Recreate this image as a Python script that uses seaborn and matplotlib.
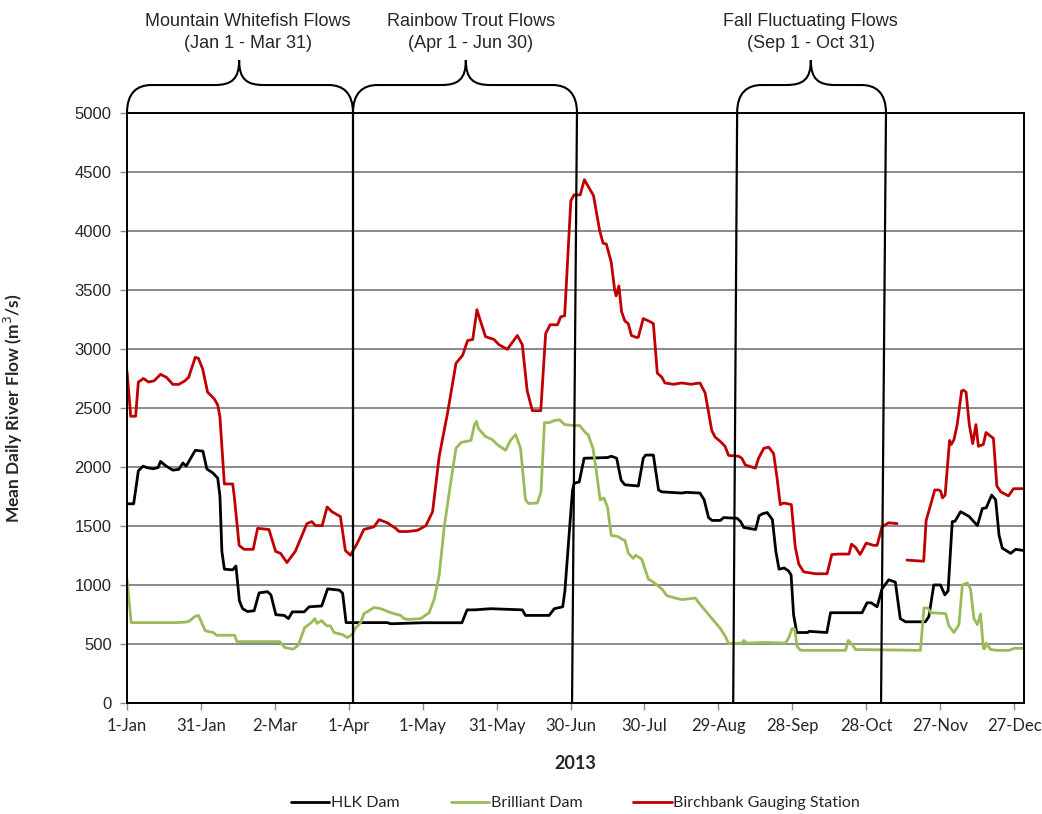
import numpy as np
import pandas as pd
import seaborn as sns
import matplotlib.pyplot as plt
from matplotlib.path import Path
from matplotlib.patches import PathPatch

# day of year (0 = 1-Jan) and mean daily flow
hlk_days = [0, 2.7, 4.6, 6.5, 8, 10.5, 12.6, 13.6, 15.7, 18.6, 21, 22.7, 24, 27.7, 30.8,
            32.4, 34.8, 36.8, 37.7, 38.5, 39.5, 42.9, 44.2, 45.6, 46.9, 48.9, 51.6, 53.6,
            57, 58.4, 60.4, 63.8, 65.5, 67.1, 71.9, 73.9, 79, 81.4, 86.2, 87.5, 88.9,
            105.6, 107, 120, 135.9, 138, 141, 147.6, 160.4, 161.7, 171.3, 173.4, 176.8,
            177.7, 179.5, 180.8, 181.5, 183.5, 185.5, 195, 196.6, 198.7, 200.5, 202,
            207.5, 209.5, 210.5, 213.6, 215.7, 217, 225.1, 227, 232.5, 234.2, 236, 237.4,
            240.8, 242.1, 247.6, 249, 250.3, 255.1, 256.5, 258, 259.8, 261.9, 263.3,
            264.6, 266.7, 268.5, 269.5, 270.5, 271.8, 276.2, 276.9, 284, 285.5, 298.3,
            300.3, 302, 304.4, 306.4, 309.1, 311.8, 313.8, 315.9, 324, 325.4, 327.4,
            330.1, 331.9, 333.2, 334.9, 336, 338.3, 341.7, 345.1, 347.1, 348.7, 350.9,
            352.5, 353.9, 355.2, 358.6, 360.6, 364]
hlk_flow = [1688, 1688, 1967, 2007, 1995, 1985, 1995, 2047, 2010, 1973, 1980, 2034, 2007,
            2141, 2134, 1983, 1950, 1906, 1755, 1285, 1134, 1128, 1161, 866, 799, 775, 782,
            933, 943, 916, 748, 742, 715, 772, 772, 815, 822, 967, 956, 930, 681, 681, 671,
            680, 680, 789, 789, 799, 789, 742, 742, 799, 815, 950, 1453, 1805, 1863, 1873,
            2074, 2080, 2091, 2074, 1889, 1849, 1839, 2074, 2101, 2101, 1805, 1789, 1779,
            1785, 1779, 1722, 1571, 1547, 1547, 1571, 1565, 1537, 1487, 1470, 1587, 1604,
            1614, 1554, 1285, 1134, 1144, 1118, 1084, 748, 597, 597, 607, 597, 765, 765,
            849, 849, 815, 967, 1044, 1024, 715, 688, 688, 732, 1000, 1000, 916, 950, 1537,
            1540, 1621, 1581, 1503, 1648, 1654, 1762, 1722, 1420, 1312, 1268, 1302, 1292]

brilliant_days = [0, 1.7, 10, 20, 23.5, 25, 27.5, 29, 31.7, 33, 35, 36.4, 43.7, 44.6, 62,
                  64, 67.4, 69.4, 72.1, 74.8, 76.2, 77.1, 79, 81, 82.5, 84, 87.4, 89.4,
                  91.4, 92.8, 94.8, 96.2, 98.2, 100.2, 101.5, 103, 107, 111, 112.4, 114,
                  119.2, 122.6, 124.7, 126.7, 128.7, 131.5, 133.5, 135.6, 139.6, 141,
                  141.8, 142.6, 145.4, 148.2, 150.2, 153.6, 155.6, 157.7, 159.7, 161.7,
                  163, 166.5, 168, 169.4, 171.4, 173.4, 175.5, 177.6, 181, 183.6, 186.3,
                  187.1, 189.1, 190.5, 192, 193.5, 195, 196.5, 199.3, 201, 202, 203.5,
                  205.4, 206.5, 208.9, 210.2, 211.6, 213.6, 217, 219.1, 222.5, 225.2,
                  230.6, 232.7, 234.7, 238.8, 240.8, 242.8, 244.2, 249.6, 250.3, 251.5,
                  259.1, 267.2, 268.6, 269.9, 271, 271.9, 273.3, 291.6, 292.7, 294.3,
                  295.6, 322, 323.4, 325, 326.1, 332.2, 333.5, 335.6, 337.6, 339, 341,
                  342.3, 343.7, 345.1, 346.4, 347.5, 348, 348.8, 350.4, 353.1, 358, 360,
                  364]
brilliant_flow = [1050, 681, 681, 681, 685, 690, 732, 742, 614, 605, 597, 574, 574, 520,
                  520, 470, 456, 487, 638, 681, 715, 675, 698, 654, 654, 597, 580, 554,
                  580, 637, 681, 758, 782, 809, 805, 799, 765, 742, 715, 708, 715, 765,
                  883, 1084, 1487, 1889, 2158, 2208, 2225, 2359, 2386, 2326, 2259, 2232,
                  2191, 2141, 2225, 2275, 2158, 1722, 1690, 1695, 1789, 2376, 2376, 2393,
                  2400, 2359, 2352, 2352, 2285, 2275, 2158, 1957, 1722, 1738, 1660, 1420,
                  1410, 1386, 1379, 1268, 1225, 1252, 1218, 1134, 1050, 1024, 967, 909,
                  889, 876, 889, 832, 782, 681, 631, 564, 503, 507, 530, 507, 513, 507,
                  554, 631, 621, 480, 446, 446, 530, 497, 453, 446, 805, 805, 765, 758,
                  654, 597, 664, 1000, 1017, 967, 715, 664, 755, 463, 460, 507, 453, 446,
                  446, 463, 463]

# Birchbank has a data gap in November, kept as two pieces
birch_days_a = [0, 1.5, 3.5, 4.6, 6.7, 8.7, 11, 13.6, 16, 18.6, 21, 23.5, 25, 27.7, 29,
                30.7, 32.7, 35.4, 36.8, 37.7, 39.5, 42.9, 43.5, 45.5, 47.5, 51.2, 53, 57.6,
                60.3, 62.3, 64.9, 68.3, 71, 73, 75, 76.5, 79.2, 81.2, 83.2, 86.6, 88.6,
                90.7, 93.4, 96.1, 100.2, 102.3, 105.6, 109, 110.4, 113.8, 117.9, 121.3,
                124, 126.7, 130.1, 133.5, 136.2, 138.2, 140.3, 142, 143, 145.5, 148.9,
                150.9, 154.3, 158.4, 160.4, 162.4, 164.5, 167.9, 169.9, 171.7, 174.7, 176,
                177.6, 180.1, 181.4, 183.9, 185.6, 189.3, 191.8, 193.2, 194.5, 196.5,
                197.9, 198.5, 199.6, 200.7, 202, 203.4, 204.7, 206.8, 207.5, 209.5, 212.2,
                213.6, 215.2, 217, 218.3, 221.7, 225.1, 228.8, 232.5, 234.6, 237.3, 238.7,
                240.7, 242.7, 244.1, 248.2, 249.5, 250.9, 255, 256.3, 258.4, 260.4, 262.4,
                263.8, 265.1, 266.5, 269.6, 271.2, 272.6, 274.6, 279.4, 284.1, 286, 288.9,
                293, 294, 295.6, 297.5, 300, 302.9, 304.4, 306.4, 309.1, 312.5]
birch_flow_a = [2810, 2430, 2430, 2720, 2750, 2720, 2730, 2785, 2760, 2700, 2700, 2730,
                2760, 2930, 2920, 2830, 2634, 2577, 2527, 2426, 1856, 1856, 1755, 1335,
                1302, 1302, 1480, 1470, 1285, 1268, 1190, 1285, 1420, 1520, 1537, 1503,
                1503, 1661, 1620, 1580, 1292, 1252, 1352, 1470, 1493, 1554, 1527, 1480,
                1453, 1453, 1463, 1503, 1621, 2091, 2460, 2879, 2947, 3071, 3081, 3333,
                3265, 3104, 3081, 3037, 2997, 3114, 3037, 2645, 2477, 2477, 3131, 3205,
                3205, 3272, 3282, 4255, 4306, 4306, 4435, 4300, 4004, 3896, 3890, 3735,
                3500, 3450, 3534, 3316, 3238, 3215, 3114, 3097, 3100, 3258, 3232, 3215,
                2795, 2762, 2712, 2701, 2712, 2701, 2712, 2628, 2309, 2252, 2218, 2175,
                2098, 2091, 2074, 2017, 1990, 2074, 2158, 2168, 2114, 1906, 1681, 1695,
                1681, 1319, 1178, 1111, 1095, 1095, 1258, 1262, 1262, 1346, 1320, 1258,
                1355, 1336, 1336, 1493, 1527, 1520]
birch_days_b = [316.5, 323.3, 324.3, 326, 327.8, 329.4, 330.2, 330.9, 332, 333.8, 334.5,
                335.6, 336.9, 338.7, 339.5, 340.5, 341.8, 343.2, 344.5, 345.5, 347.5,
                348.6, 351.6, 353, 354.6, 357.7, 359.8, 364]
birch_flow_b = [1211, 1201, 1547, 1671, 1805, 1805, 1795, 1738, 1762, 2225, 2191, 2232,
                2359, 2645, 2650, 2634, 2359, 2198, 2359, 2175, 2191, 2292, 2242, 1839,
                1789, 1755, 1816, 1816]

series_names = ["HLK Dam", "Brilliant Dam", "Birchbank Gauging Station"]
series_colors = ["#000000", "#9BBB59", "#C00000"]

tick_days = [0, 30, 60, 90, 120, 150, 180, 210, 240, 270, 300, 330, 360]
tick_labels = ["1-Jan", "31-Jan", "2-Mar", "1-Apr", "1-May", "31-May", "30-Jun",
               "30-Jul", "29-Aug", "28-Sep", "28-Oct", "27-Nov", "27-Dec"]

# flow periods: label, second line, brace start / end / tip, text centre (days)
periods = [("Mountain Whitefish Flows", "(Jan 1 - Mar 31)", 0, 91.7, 45.5, 49.0),
           ("Rainbow Trout Flows", "(Apr 1 - Jun 30)", 91.7, 182.6, 137.5, 139.5),
           ("Fall Fluctuating Flows", "(Sep 1 - Oct 31)", 247.6, 308, 277.5, 277.5)]
# hand-drawn divider lines: (x at bottom, x at top)
dividers = [(91.7, 91.7), (180.6, 182.6), (246.0, 247.6), (306.0, 308.0)]

frames = []
for name, d, f, seg in [(series_names[0], hlk_days, hlk_flow, "hlk"),
                        (series_names[1], brilliant_days, brilliant_flow, "bri"),
                        (series_names[2], birch_days_a, birch_flow_a, "bir_a"),
                        (series_names[2], birch_days_b, birch_flow_b, "bir_b")]:
    frames.append(pd.DataFrame({"day": d, "flow": f, "series": name, "segment": seg}))
df = pd.concat(frames, ignore_index=True)

sns.set_style("white")
calibri_like = ["Lato", "DejaVu Sans"]
arial_like = ["Liberation Sans", "DejaVu Sans"]
plt.rcParams["font.family"] = calibri_like

fig = plt.figure(figsize=(10.42, 8.14), dpi=100)
ax = fig.add_axes([0.1219, 0.1364, 0.8608, 0.7248])

sns.lineplot(data=df, x="day", y="flow", hue="series", units="segment",
             estimator=None, sort=False, hue_order=series_names,
             palette=dict(zip(series_names, series_colors)), linewidth=2.0, ax=ax)

ax.set_xlim(0, 364)
ax.set_ylim(0, 5000)
ax.set_yticks(range(0, 5001, 500))
ax.set_xticks(tick_days)
ax.set_xticklabels(tick_labels, fontsize=12)
for lbl in ax.get_yticklabels():
    lbl.set_family(arial_like)
    lbl.set_fontsize(12)
ax.grid(axis="y", color="#8a8a8a", linewidth=1.4)
ax.set_axisbelow(True)
for sp in ax.spines.values():
    sp.set_color("black")
    sp.set_linewidth(1.4)
ax.tick_params(axis="both", direction="out", length=5, width=1, color="#8a8a8a",
               pad=6, bottom=True, left=True)

ax.set_xlabel("2013", fontsize=13, fontweight="bold")
ax.xaxis.set_label_coords(0.5, -0.088)
ax.set_ylabel("Mean Daily River Flow (m$^3$/s)", fontsize=12.5, fontweight="bold")
ax.yaxis.set_label_coords(-0.114, 0.5)

for xb, xt in dividers:
    ax.plot([xb, xt], [0, 5000], color="black", linewidth=1.6, clip_on=False)

# curly braces above the plot
y0, y1, ytip = 5000, 5237, 5449
for line1, line2, xs, xe, xm, xt in periods:
    r = 10
    verts = [(xs, y0), (xs, y0 + 170), (xs + 0.4 * r, y1), (xs + r, y1),
             (xm - r, y1), (xm - 0.3 * r, y1), (xm, y1 + 50), (xm, ytip),
             (xm, y1 + 50), (xm + 0.3 * r, y1), (xm + r, y1),
             (xe - r, y1), (xe - 0.4 * r, y1), (xe, y0 + 170), (xe, y0)]
    codes = [Path.MOVETO, Path.CURVE4, Path.CURVE4, Path.CURVE4,
             Path.LINETO, Path.CURVE4, Path.CURVE4, Path.CURVE4,
             Path.CURVE4, Path.CURVE4, Path.CURVE4,
             Path.LINETO, Path.CURVE4, Path.CURVE4, Path.CURVE4]
    ax.add_patch(PathPatch(Path(verts, codes), facecolor="none", edgecolor="black",
                           linewidth=1.5, clip_on=False))
    ax.text(xt, 5778, line1, ha="center", va="center", fontsize=13, family=arial_like)
    ax.text(xt, 5592, line2, ha="center", va="center", fontsize=13, family=arial_like)

sns.move_legend(ax, "center", bbox_to_anchor=(0.5, -0.17), ncol=3, frameon=False,
                title=None, fontsize=11.5, handlelength=2.4, columnspacing=3.2,
                handletextpad=0.1)

fig.savefig("out.png", dpi=100)
